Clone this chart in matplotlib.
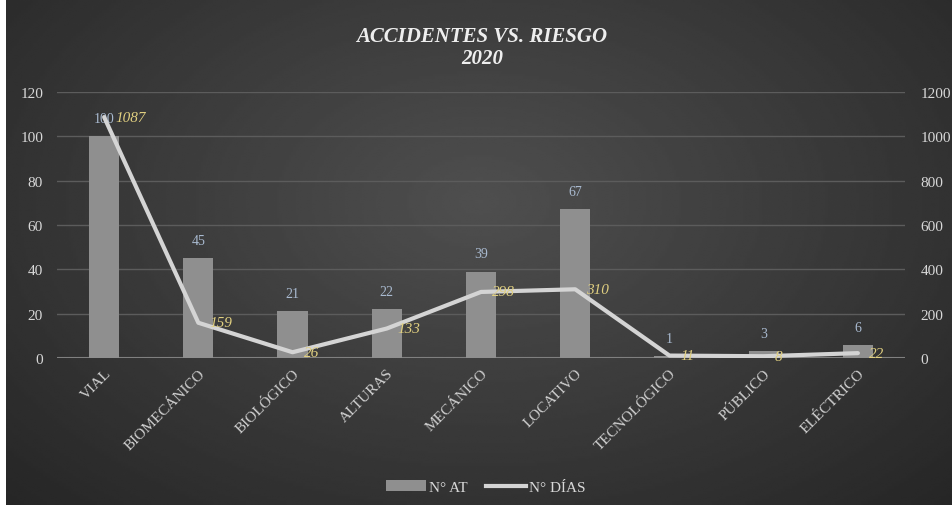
import numpy as np
import matplotlib
matplotlib.use("Agg")
import matplotlib.pyplot as plt
from matplotlib.lines import Line2D
from matplotlib.patches import Patch

categories = ["VIAL", "BIOMECÁNICO", "BIOLÓGICO", "ALTURAS", "MECÁNICO",
              "LOCATIVO", "TECNOLÓGICO", "PÚBLICO", "ELÉCTRICO"]
n_at = [100, 45, 21, 22, 39, 67, 1, 3, 6]
n_dias = [1087, 159, 26, 133, 298, 310, 11, 8, 22]
left_ticks = [0, 20, 40, 60, 80, 100, 120]
right_ticks = [0, 200, 400, 600, 800, 1000, 1200]

plt.rcParams['font.family'] = ['Liberation Serif', 'DejaVu Serif']

W, H = 952, 506
fig = plt.figure(figsize=(W / 100, H / 100), dpi=100)
fig.patch.set_facecolor("white")

# background gradient panel
bg = fig.add_axes([6 / W, 0, 1 - 6 / W, 1])
bg.set_axis_off()
yy, xx = np.mgrid[0:1:200j, 0:1:400j]
r = np.sqrt(((xx - 0.5) / 0.75) ** 2 + ((yy - 0.4) / 0.9) ** 2)
val = 0.31 - 0.17 * r
bg.imshow(val, cmap="gray", vmin=0, vmax=1, aspect="auto",
          extent=[0, 1, 0, 1], interpolation="bilinear")
bg.set_xlim(0, 1)
bg.set_ylim(0, 1)

ax = fig.add_axes([57 / W, 1 - 359 / H, (905 - 57) / W, (359 - 93) / H])
ax.set_facecolor("none")
x = np.arange(len(categories))
bars = ax.bar(x, n_at, width=0.32, color="#8f8f8f", zorder=2)
ax.set_ylim(0, 120)
ax.set_xlim(-0.5, len(categories) - 0.5)
ax.set_yticks(left_ticks)
ax.grid(axis="y", color="#5c5c5c", linewidth=1, zorder=0)
for s in ax.spines.values():
    s.set_visible(False)
ax.axhline(0, color="#8a8a8a", linewidth=1.5, zorder=1)
ax.tick_params(axis="both", length=0, colors="#d8d8d8", labelsize=11)
ax.tick_params(axis="y", pad=10)
ax.tick_params(axis="x", pad=6)
ax.set_xticks(x)
ax.set_xticklabels(categories, rotation=45, ha="right", va="top",
                   rotation_mode="anchor", color="#d0d0d0", fontsize=11)
for xi, v in zip(x, n_at):
    ax.annotate(str(v), (xi, v), xytext=(0, 8), textcoords="offset points",
                ha="center", va="bottom", color="#a9bad0", fontsize=10, zorder=5)

ax2 = ax.twinx()
ax2.set_ylim(0, 1200)
ax2.set_yticks(right_ticks)
for s in ax2.spines.values():
    s.set_visible(False)
ax2.tick_params(axis="y", length=0, colors="#d8d8d8", labelsize=11, pad=11)
ax2.plot(x, n_dias, color="#d4d4d4", linewidth=3, zorder=4,
         solid_joinstyle="round", solid_capstyle="round")
for xi, v in zip(x, n_dias):
    ax2.annotate(str(v), (xi, v), xytext=(8, 0), textcoords="offset points",
                 ha="left", va="center", color="#e0cf80", fontsize=11,
                 style="italic", zorder=6)

fig.text(482 / W, 1 - 37 / H, "ACCIDENTES VS. RIESGO", ha="center", va="center",
         color="#eeeeee", fontsize=15, fontweight="bold", style="italic")
fig.text(482 / W, 1 - 59 / H, "2020", ha="center", va="center",
         color="#eeeeee", fontsize=15, fontweight="bold", style="italic")

handles = [Patch(facecolor="#8f8f8f", edgecolor="none", label="N° AT"),
           Line2D([0], [0], color="#d4d4d4", linewidth=3, label="N° DÍAS")]
leg = fig.legend(handles=handles, loc="center", bbox_to_anchor=(486 / W, 1 - 488 / H),
                 ncol=2, frameon=False, fontsize=11, handlelength=2.6,
                 handletextpad=0.2, columnspacing=1.2, labelcolor="#d8d8d8")

fig.savefig("out.png", dpi=100, facecolor=fig.get_facecolor())
